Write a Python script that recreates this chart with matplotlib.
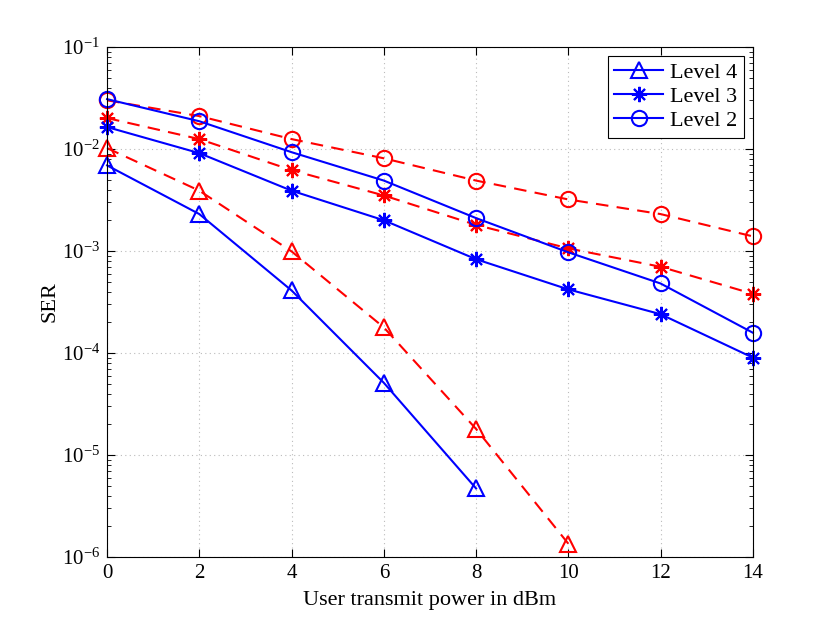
import numpy as np
import matplotlib.pyplot as plt
from matplotlib.ticker import LogLocator, NullFormatter, FixedLocator

plt.rcParams['font.family'] = ['Liberation Serif', 'DejaVu Serif']
plt.rcParams['mathtext.fontset'] = 'stix'

power = [0, 2, 4, 6, 8, 10, 12, 14]

# solid (blue) curves
lvl4_blue = [6.9e-3, 2.3e-3, 4.1e-4, 5.1e-5, 4.7e-6]
lvl3_blue = [1.64e-2, 9.1e-3, 3.9e-3, 2.0e-3, 8.3e-4, 4.2e-4, 2.4e-4, 9.0e-5]
lvl2_blue = [3.08e-2, 1.87e-2, 9.3e-3, 4.9e-3, 2.1e-3, 9.7e-4, 4.8e-4, 1.58e-4]

# dashed (red) curves
lvl4_red = [1.02e-2, 3.9e-3, 9.9e-4, 1.78e-4, 1.8e-5, 1.35e-6]
lvl3_red = [2.01e-2, 1.25e-2, 6.2e-3, 3.5e-3, 1.8e-3, 1.06e-3, 7.0e-4, 3.8e-4]
lvl2_red = [3.0e-2, 2.1e-2, 1.25e-2, 8.1e-3, 4.9e-3, 3.2e-3, 2.3e-3, 1.39e-3]

fig = plt.figure(figsize=(8.3, 6.23), dpi=100)
ax = fig.add_axes([0.129, 0.106, 0.778, 0.8186])

blue = "#0000ff"
red = "#ff0000"
star = (8, 2, 0)
kw = dict(linewidth=1.5, markerfacecolor="none", markeredgewidth=1.5, clip_on=False)
dash = (0, (6, 4))

ax.plot(power[:len(lvl4_red)], lvl4_red, color=red, linestyle=dash, marker="^", markersize=12, **kw)
ax.plot(power, lvl3_red, color=red, linestyle=dash, marker=star, markersize=11, **kw)
ax.plot(power, lvl2_red, color=red, linestyle=dash, marker="o", markersize=11, **kw)

ax.plot(power[:len(lvl4_blue)], lvl4_blue, color=blue, marker="^", markersize=12, label="Level 4", **kw)
ax.plot(power, lvl3_blue, color=blue, marker=star, markersize=11, label="Level 3", **kw)
ax.plot(power, lvl2_blue, color=blue, marker="o", markersize=11, label="Level 2", **kw)

ax.set_yscale("log")
ax.set_xlim(0, 14)
ax.set_ylim(1e-6, 1e-1)
ax.xaxis.set_major_locator(FixedLocator(power))
ax.yaxis.set_major_locator(LogLocator(base=10, numticks=10))
ax.yaxis.set_minor_locator(LogLocator(base=10, subs=np.arange(2, 10), numticks=20))
ax.yaxis.set_minor_formatter(NullFormatter())

ax.grid(True, which="major", linestyle=(0, (1, 3)), color="#bbbbbb", linewidth=0.8)
ax.tick_params(which="both", direction="in", top=True, right=True, labelsize=15)
ax.tick_params(which="major", length=6, pad=5)
ax.tick_params(which="minor", length=3)
for s in ax.spines.values():
    s.set_linewidth(0.8)

ax.set_xlabel("User transmit power in dBm", fontsize=16, labelpad=6)
ax.set_ylabel("SER", fontsize=16, labelpad=2)

leg = ax.legend(loc="upper right", fontsize=16, fancybox=False, framealpha=1,
                edgecolor="black", handlelength=2.2, borderaxespad=0.4,
                labelspacing=0.15, handletextpad=0.3, borderpad=0.3)
leg.get_frame().set_linewidth(0.8)

plt.savefig("out.png", dpi=100)
